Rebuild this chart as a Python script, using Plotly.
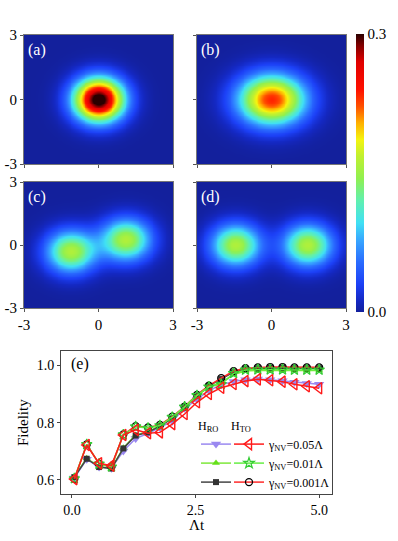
import numpy as np
import plotly.graph_objects as go

# ---------------- data ----------------
# Husimi-like distributions: blob parameters
# each panel: centre x, centre y, width x, width y, amplitude
a_cx, a_cy, a_sx, a_sy, a_amp = [0.0], [0.0], [1.0], [1.0], [0.318]
b_cx, b_cy, b_sx, b_sy, b_amp = [0.0], [0.0], [1.34], [1.16], [0.235]
c_cx, c_cy, c_sx, c_sy, c_amp = [-1.12, 1.10], [-0.30, 0.26], [1.0, 1.0], [1.0, 1.0], [0.159, 0.159]
d_cx, d_cy, d_sx, d_sy, d_amp = [-1.45, 1.45], [0.0, 0.0], [1.0, 1.0], [1.0, 1.0], [0.159, 0.159]
panel_labels = ["(a)", "(b)", "(c)", "(d)"]

# Fidelity vs Lambda t
t = [0.05, 0.30, 0.55, 0.80, 1.04, 1.29, 1.54, 1.78, 2.03, 2.28, 2.53,
     2.77, 3.02, 3.27, 3.51, 3.76, 4.01, 4.26, 4.50, 4.75, 5.00]
hro_005 = [0.607, 0.672, 0.645, 0.641, 0.701, 0.745, 0.762, 0.783, 0.805, 0.850, 0.882,
           0.912, 0.932, 0.944, 0.950, 0.952, 0.950, 0.946, 0.941, 0.937, 0.934]
hro_001 = [0.612, 0.676, 0.646, 0.640, 0.712, 0.757, 0.768, 0.790, 0.815, 0.855, 0.893,
           0.925, 0.940, 0.968, 0.980, 0.982, 0.983, 0.983, 0.982, 0.982, 0.982]
hro_0001 = [0.610, 0.674, 0.645, 0.640, 0.710, 0.755, 0.766, 0.788, 0.815, 0.856, 0.895,
            0.928, 0.952, 0.976, 0.987, 0.990, 0.991, 0.991, 0.990, 0.990, 0.990]
hto_005 = [0.603, 0.722, 0.658, 0.650, 0.757, 0.775, 0.763, 0.766, 0.795, 0.830, 0.871,
           0.900, 0.922, 0.935, 0.945, 0.951, 0.948, 0.943, 0.934, 0.927, 0.920]
hto_001 = [0.605, 0.724, 0.656, 0.646, 0.758, 0.786, 0.781, 0.790, 0.819, 0.855, 0.895,
           0.925, 0.934, 0.972, 0.984, 0.985, 0.985, 0.985, 0.984, 0.984, 0.984]
hto_0001 = [0.604, 0.724, 0.656, 0.646, 0.759, 0.788, 0.783, 0.792, 0.821, 0.856, 0.897,
            0.929, 0.955, 0.980, 0.990, 0.993, 0.994, 0.994, 0.993, 0.993, 0.993]
gamma_labels = ["γ<sub>NV</sub>=0.05Λ", "γ<sub>NV</sub>=0.01Λ", "γ<sub>NV</sub>=0.001Λ"]

# ---------------- figure ----------------
W, H = 398, 541
SERIF = "Liberation Serif"
grid = np.linspace(-3, 3, 161)
X, Y = np.meshgrid(grid, grid)


def field(cx, cy, sx, sy, amp):
    z = np.zeros_like(X)
    for x0, y0, wx, wy, A in zip(cx, cy, sx, sy, amp):
        z += A * np.exp(-((X - x0) / wx) ** 2 - ((Y - y0) / wy) ** 2)
    return z


fields = [field(a_cx, a_cy, a_sx, a_sy, a_amp), field(b_cx, b_cy, b_sx, b_sy, b_amp),
          field(c_cx, c_cy, c_sx, c_sy, c_amp), field(d_cx, d_cy, d_sx, d_sy, d_amp)]

jet = [[0.0, "#13209c"], [0.04, "#1428c2"], [0.10, "#1c40f6"], [0.18, "#2a6cff"],
       [0.26, "#38a8ff"], [0.32, "#40e0f4"], [0.40, "#60f0b0"], [0.48, "#90f050"],
       [0.56, "#c0f030"], [0.62, "#f4f410"], [0.68, "#ffb000"], [0.74, "#ff5000"],
       [0.80, "#ff1000"], [0.90, "#e00000"], [0.96, "#800000"], [1.0, "#2a0000"]]


def px_x(p):
    return p / W


def px_y(p):
    return 1 - p / H


doms = [
    ([px_x(24), px_x(173)], [px_y(164), px_y(35)]),
    ([px_x(197), px_x(346)], [px_y(164), px_y(35)]),
    ([px_x(24), px_x(173)], [px_y(308), px_y(182)]),
    ([px_x(197), px_x(346)], [px_y(308), px_y(182)]),
]

fig = go.Figure()
layout = {}
for i, z in enumerate(fields):
    k = i + 1
    xa = "x" if k == 1 else f"x{k}"
    ya = "y" if k == 1 else f"y{k}"
    fig.add_trace(go.Heatmap(x=grid, y=grid, z=z, coloraxis="coloraxis",
                             zsmooth="best", xaxis=xa, yaxis=ya, hoverinfo="skip"))
    xd, yd = doms[i]
    layout[f"xaxis{'' if k == 1 else k}"] = dict(
        domain=xd, range=[-3, 3], anchor=ya, tickvals=[-3, 0, 3], ticktext=["-3", "0", "3"],
        showticklabels=(k in (3, 4)), ticks="outside", ticklen=3, tickcolor="#555",
        showline=True, linecolor="#777", linewidth=1, mirror=True, showgrid=False,
        zeroline=False, automargin=False, tickfont=dict(family=SERIF, size=15, color="black"))
    layout[f"yaxis{'' if k == 1 else k}"] = dict(
        domain=yd, range=[-3, 3], anchor=xa, tickvals=[-3, 0, 3], ticktext=["-3", "0", "3"],
        showticklabels=(k in (1, 3)), ticks="outside", ticklen=3, tickcolor="#555",
        showline=True, linecolor="#777", linewidth=1, mirror=True, showgrid=False,
        zeroline=False, automargin=False, tickfont=dict(family=SERIF, size=15, color="black"))

# Fidelity panel (axes 5)
series = [
    (hro_005, "HRO", " ", 1, dict(color="#9a88f0", width=1.5), dict(symbol="triangle-down", size=9, color="#9a88f0")),
    (hro_001, "HRO", " ", 2, dict(color="#7ee83a", width=1.5), dict(symbol="triangle-up", size=7, color="#66e01a")),
    (hro_0001, "HRO", " ", 3, dict(color="#444444", width=1.5), dict(symbol="square", size=6, color="#333333")),
    (hto_0001, "HTO", gamma_labels[2], 3, dict(color="#ff2a2a", width=1.5), dict(symbol="circle-open", size=7, color="black", line=dict(width=1.3))),
    (hto_001, "HTO", gamma_labels[1], 2, dict(color="#66ee44", width=1.5), dict(symbol="star-open", size=8, color="#33cc33", line=dict(width=1.2))),
    (hto_005, "HTO", gamma_labels[0], 1, dict(color="#ff1a1a", width=1.5), dict(symbol="triangle-left-open", size=10, color="#ff1a1a", line=dict(width=1.4))),
]
for ys, grp, nm, rank, ln, mk in series:
    fig.add_trace(go.Scatter(x=t, y=ys, mode="lines+markers", line=ln, marker=mk,
                             xaxis="x5", yaxis="y5", name=nm,
                             legend="legend" if grp == "HRO" else "legend2",
                             legendrank=rank, hoverinfo="skip"))

layout["xaxis5"] = dict(domain=[px_x(61), px_x(332)], range=[-0.22, 5.26], anchor="y5",
                        tickvals=[0, 2.5, 5], ticktext=["0.0", "2.5", "5.0"], ticks="outside",
                        ticklen=3, tickcolor="#444", showline=True, linecolor="#444", linewidth=1,
                        mirror=True, showgrid=False, zeroline=False, automargin=False,
                        tickfont=dict(family=SERIF, size=14, color="black"))
layout["yaxis5"] = dict(domain=[px_y(494), px_y(351)], range=[0.551, 1.05], anchor="x5",
                        tickvals=[0.6, 0.8, 1.0], ticktext=["0.6", "0.8", "1.0"], ticks="outside",
                        ticklen=3, tickcolor="#444", showline=True, linecolor="#444", linewidth=1,
                        mirror=True, showgrid=False, zeroline=False, automargin=False,
                        tickfont=dict(family=SERIF, size=14, color="black"))

annotations = []
label_pos = [(26, 50), (199, 50), (26, 197), (199, 197)]
for lab, (lx, ly) in zip(panel_labels, label_pos):
    annotations.append(dict(text=lab, x=px_x(lx), y=px_y(ly), xref="paper", yref="paper",
                            xanchor="left", yanchor="middle", showarrow=False,
                            font=dict(family=SERIF, size=16, color="white")))
annotations.append(dict(text="(e)", x=px_x(69), y=px_y(364), xref="paper", yref="paper",
                        xanchor="left", yanchor="middle", showarrow=False,
                        font=dict(family=SERIF, size=16, color="black")))
annotations.append(dict(text="Fidelity", x=px_x(23), y=px_y(423), xref="paper", yref="paper",
                        textangle=-90, showarrow=False, xanchor="center", yanchor="middle",
                        font=dict(family=SERIF, size=15, color="black")))
annotations.append(dict(text="Λt", x=px_x(197), y=px_y(525), xref="paper", yref="paper",
                        showarrow=False, xanchor="center", yanchor="middle",
                        font=dict(family=SERIF, size=15, color="black")))

fig.update_layout(
    width=W, height=H, margin=dict(l=0, r=0, t=0, b=0),
    font=dict(family=SERIF, color="black"),
    paper_bgcolor="white", plot_bgcolor="white",
    coloraxis=dict(colorscale=jet, cmin=0, cmax=0.3,
                   colorbar=dict(x=px_x(356), xanchor="left", y=px_y(173), yanchor="middle",
                                 len=278 / H, lenmode="fraction", thickness=8, outlinewidth=0,
                                 tickvals=[0, 0.3], ticktext=["0.0", "0.3"], ticks="",
                                 tickfont=dict(family=SERIF, size=15, color="black"),
                                 xpad=0, ypad=0)),
    legend=dict(x=px_x(196), y=px_y(414), xanchor="left", yanchor="top",
                title=dict(text="H<sub>RO</sub>", side="top", font=dict(family=SERIF, size=12)),
                font=dict(family=SERIF, size=12, color="black"), bgcolor="rgba(0,0,0,0)",
                tracegroupgap=0, itemwidth=30, traceorder="normal"),
    legend2=dict(x=px_x(229), y=px_y(414), xanchor="left", yanchor="top",
                 title=dict(text="H<sub>TO</sub>", side="top", font=dict(family=SERIF, size=12)),
                 font=dict(family=SERIF, size=12, color="black"), bgcolor="rgba(0,0,0,0)",
                 tracegroupgap=0, itemwidth=30, traceorder="normal"),
    annotations=annotations,
    **layout,
)

fig.write_html("out.html", config={"displayModeBar": False},
               post_script="document.body.style.margin='0';document.body.style.padding='0';")
